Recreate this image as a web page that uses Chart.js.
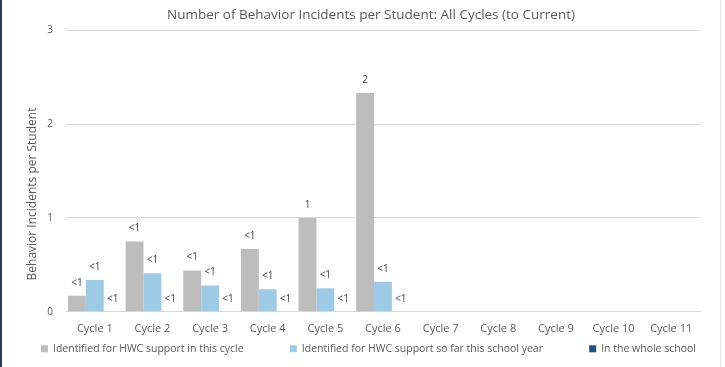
<!DOCTYPE html>
<html>
<head>
<meta charset="utf-8">
<script src="https://cdn.jsdelivr.net/npm/chart.js@4/dist/chart.umd.min.js"></script>
<style>
  html, body { margin: 0; padding: 0; background: #ffffff; }
  #wrap { position: relative; width: 725px; height: 367px; box-sizing: border-box;
          border-left: 2px solid #2b3a57; }
  #edge { position: absolute; left: 718px; top: 0; width: 1px; height: 367px; background: #e4e4e4; }
  canvas { display: block; }
</style>
</head>
<body>
<div id="wrap">
  <canvas id="c" width="723" height="367"></canvas>
  <div id="edge"></div>
</div>
<script>
// Behaviour incidents per student, by reporting cycle
const cycles = ['Cycle 1', 'Cycle 2', 'Cycle 3', 'Cycle 4', 'Cycle 5', 'Cycle 6',
                'Cycle 7', 'Cycle 8', 'Cycle 9', 'Cycle 10', 'Cycle 11'];
const seriesNames = ['Identified for HWC support in this cycle',
                     'Identified for HWC support so far this school year',
                     'In the whole school'];
const thisCycle   = [0.17, 0.75, 0.44, 0.67, 1.0, 2.33, null, null, null, null, null];
const schoolYear  = [0.34, 0.41, 0.28, 0.24, 0.25, 0.32, null, null, null, null, null];
const wholeSchool = [0, 0, 0, 0, 0, 0, null, null, null, null, null];
const yTicks = [0, 1, 2, 3];
const yTitle = 'Behavior Incidents per Student';

const FONT = '"Open Sans", sans-serif';
const TEXT = '#595959';

// value labels above each bar: below one shows "<1", otherwise the rounded count
const barLabels = {
  id: 'barLabels',
  afterDatasetsDraw(chart) {
    const ctx = chart.ctx;
    ctx.save();
    ctx.font = '10px ' + FONT;
    ctx.fillStyle = '#404040';
    ctx.textAlign = 'center';
    ctx.textBaseline = 'middle';
    chart.data.datasets.forEach((ds, i) => {
      const meta = chart.getDatasetMeta(i);
      meta.data.forEach((bar, j) => {
        const v = ds.data[j];
        if (v === null || v === undefined) return;
        const txt = v < 1 ? '<1' : String(Math.round(v));
        ctx.fillText(txt, bar.x, bar.y - 13);
      });
    });
    ctx.restore();
  }
};

// legend row under the axis, items spread across the chart width,
// plus the vertical axis title sitting a little below the middle
const frameText = {
  id: 'frameText',
  afterDraw(chart) {
    const ctx = chart.ctx;
    const area = chart.chartArea;
    ctx.save();
    ctx.font = '10.5px ' + FONT;
    ctx.textBaseline = 'middle';
    const box = 7, gap = 5;
    const items = chart.data.datasets.map(ds => ({
      text: ds.label, color: ds.backgroundColor,
      w: box + gap + ctx.measureText(ds.label).width
    }));
    const left = area.left - 25, right = area.right - 4;
    const total = items.reduce((s, it) => s + it.w, 0);
    const space = (right - left - total) / (items.length - 1);
    const y = area.bottom + 37;
    let x = left;
    items.forEach(it => {
      ctx.fillStyle = it.color;
      ctx.fillRect(x, y - box / 2, box, box);
      ctx.fillStyle = TEXT;
      ctx.fillText(it.text, x + box + gap, y);
      x += it.w + space;
    });

    ctx.font = '12px ' + FONT;
    ctx.textAlign = 'center';
    ctx.fillStyle = TEXT;
    ctx.translate(31, (area.top + area.bottom) / 2 + 23);
    ctx.rotate(-Math.PI / 2);
    ctx.fillText(yTitle, 0, 0);
    ctx.restore();
  }
};

new Chart(document.getElementById('c'), {
  type: 'bar',
  data: {
    labels: cycles,
    datasets: [
      { label: seriesNames[0], data: thisCycle,   backgroundColor: '#bdbdbd' },
      { label: seriesNames[1], data: schoolYear,  backgroundColor: '#9ecae6' },
      { label: seriesNames[2], data: wholeSchool, backgroundColor: '#1f5183' }
    ]
  },
  options: {
    responsive: false,
    animation: false,
    layout: { padding: { left: 40, right: 25, top: 0, bottom: 30 } },
    datasets: { bar: { categoryPercentage: 0.93, barPercentage: 1.0 } },
    plugins: {
      title: {
        display: true,
        text: 'Number of Behavior Incidents per Student: All Cycles (to Current)',
        color: TEXT,
        font: { family: FONT, size: 13.5, weight: 'normal' },
        padding: { top: 7, bottom: 7 }
      },
      legend: { display: false },
      tooltip: { enabled: false }
    },
    scales: {
      x: {
        grid: { display: false },
        border: { color: '#d9d9d9' },
        ticks: { color: TEXT, font: { family: FONT, size: 11 }, padding: 2, maxRotation: 0 }
      },
      y: {
        min: 0,
        max: 3,
        afterBuildTicks(scale) { scale.ticks = yTicks.map(v => ({ value: v })); },
        afterFit(scale) { scale.width = 24; },
        grid: { color: '#d9d9d9', drawTicks: false },
        border: { display: false },
        ticks: { color: TEXT, font: { family: FONT, size: 10 }, padding: 13 }
      }
    }
  },
  plugins: [barLabels, frameText]
});
</script>
</body>
</html>
